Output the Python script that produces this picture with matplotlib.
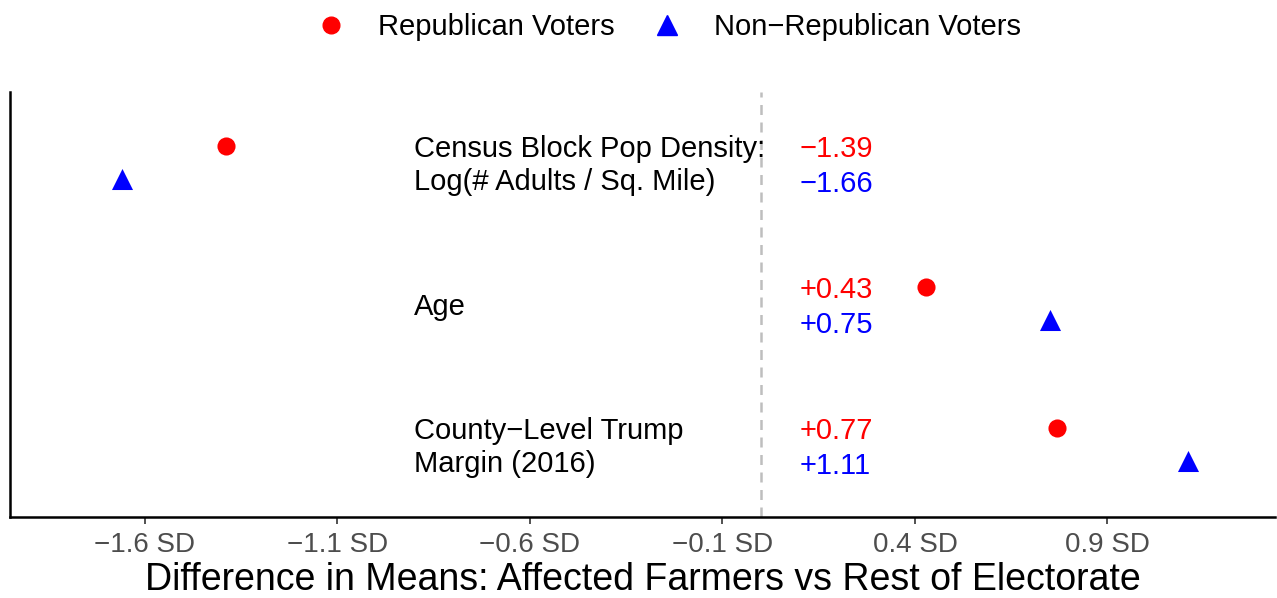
import numpy as np
import matplotlib
matplotlib.use('Agg')
import matplotlib.pyplot as plt
from matplotlib.lines import Line2D

plt.rcParams['font.family'] = ['Liberation Sans', 'DejaVu Sans']

# one row per variable, top to bottom
variables = ['Census Block Pop Density:\nLog(# Adults / Sq. Mile)',
             'Age',
             'County\u2212Level Trump\nMargin (2016)']
rep_diff = [-1.39, 0.43, 0.77]
nonrep_diff = [-1.66, 0.75, 1.11]
tick_vals = [-1.6, -1.1, -0.6, -0.1, 0.4, 0.9]

def fmt(v):
    return ('+' if v > 0 else '\u2212') + '%.2f' % abs(v)

ypos = np.array([3, 2, 1])
off = 0.117
txt_shift = -0.022  # va='center' sits text slightly high

fig = plt.figure(figsize=(12.77, 5.98), dpi=100)
ax = fig.add_axes([10/1277, 81/598, 1265/1277, 425/598])

ax.axvline(0, color='#BEBEBE', linestyle=(0, (4, 3)), linewidth=1.8, zorder=1)

ax.scatter(rep_diff, ypos + off, marker='o', s=170, color='#FF0000', zorder=3, linewidths=0)
ax.scatter(nonrep_diff, ypos - off, marker='^', s=230, color='#0000FF', zorder=3, linewidths=0)

for y, lab, r, n in zip(ypos, variables, rep_diff, nonrep_diff):
    ax.text(-0.90, y + txt_shift, lab, ha='left', va='center', fontsize=21, linespacing=1.25)
    ax.text(0.1, y + 0.118 + txt_shift, fmt(r), ha='left', va='center', fontsize=21, color='#FF0000')
    ax.text(0.1, y - 0.128 + txt_shift, fmt(n), ha='left', va='center', fontsize=21, color='#0000FF')

ax.set_xlim(-1.95, 1.335)
ax.set_ylim(0.486, 3.5)
ax.set_xticks(tick_vals)
ax.set_xticklabels([('\u2212' if t < 0 else '') + '%.1f SD' % abs(t) for t in tick_vals])
ax.tick_params(axis='x', labelsize=20, labelcolor='#4D4D4D', color='#333333',
               length=5, width=1.2, pad=6)
ax.set_yticks([])
for s in ['top', 'right']:
    ax.spines[s].set_visible(False)
ax.spines['left'].set_linewidth(1.8)
ax.spines['bottom'].set_linewidth(1.8)
ax.set_xlabel('Difference in Means: Affected Farmers vs Rest of Electorate', fontsize=27, labelpad=3)

handles = [Line2D([], [], marker='o', linestyle='', color='#FF0000', markersize=12),
           Line2D([], [], marker='^', linestyle='', color='#0000FF', markersize=14)]
fig.legend(handles, ['Republican Voters', 'Non\u2212Republican Voters'], loc='center',
           bbox_to_anchor=(0.518, 0.955), ncol=2, frameon=False, fontsize=21,
           handletextpad=0.6, columnspacing=0.8)

fig.savefig('out.png', dpi=100)
